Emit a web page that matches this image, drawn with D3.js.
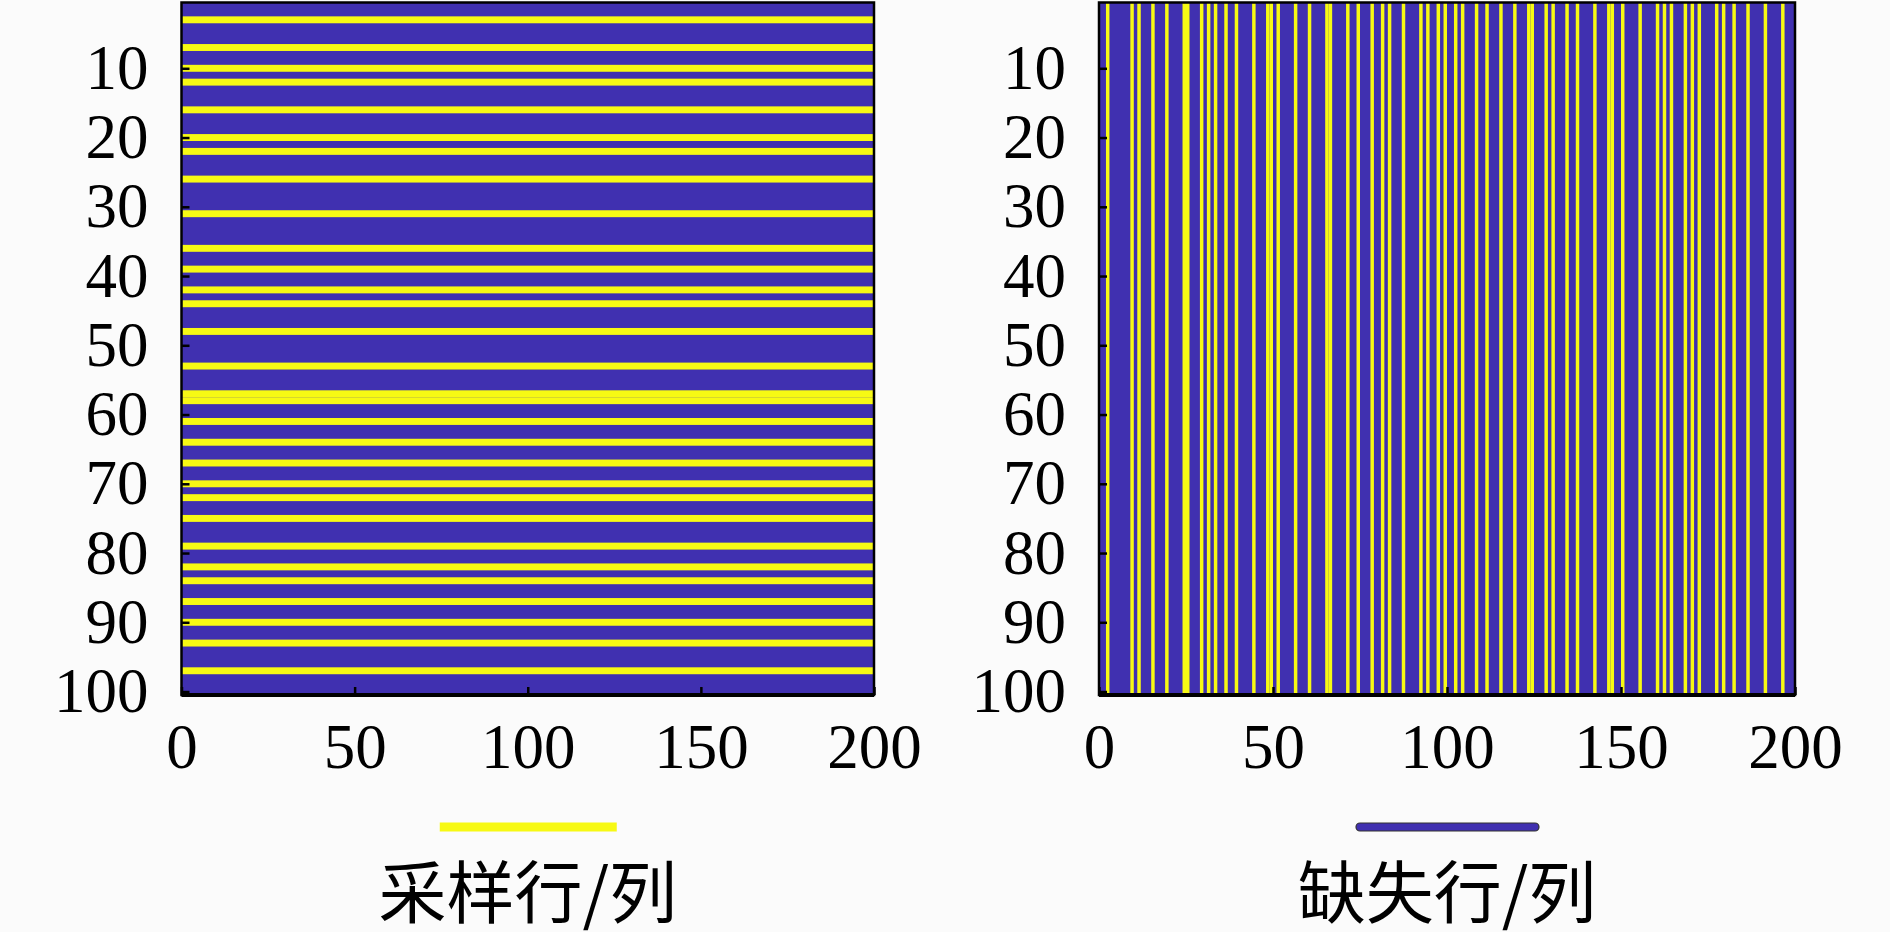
<!DOCTYPE html>
<html>
<head>
<meta charset="utf-8">
<script src="https://cdn.jsdelivr.net/npm/d3@7"></script>
<style>
  html, body { margin: 0; padding: 0; background: #fbfbfb; }
  svg { display: block; }
  .tick text { font-family: "Liberation Serif", "DejaVu Serif", serif; font-size: 63px; fill: #000; }
  .legend-label { font-family: "Noto Sans CJK SC", sans-serif; font-size: 68px; fill: #000; }
</style>
</head>
<body>
<script>
// matrix size
var ROW_COUNT = 100;
var COL_COUNT = 200;

// rows kept by row sampling (left panel)
var sampledRows = [3, 7, 10, 12, 16, 20, 22, 26, 31, 36, 39, 42, 44, 48, 53, 57, 58,
  61, 64, 67, 70, 72, 75, 79, 82, 84, 87, 90, 93, 97];

// columns kept by column sampling (right panel)
var sampledCols = [3, 10, 12, 16, 20, 25, 26, 30, 32, 34, 37, 40, 45, 49, 50, 52, 57,
  61, 66, 67, 72, 75, 79, 82, 84, 88, 93, 95, 98, 100, 103, 105, 109, 112, 116, 120,
  124, 125, 129, 131, 135, 138, 143, 147, 148, 151, 156, 161, 163, 165, 169, 171, 173,
  178, 180, 183, 187, 192, 197];

var xTicks = [0, 50, 100, 150, 200];
var yTicks = [10, 20, 30, 40, 50, 60, 70, 80, 90, 100];
var legendLabels = ["采样行/列", "缺失行/列"];

var BLUE = "#4030b0";
var YELLOW = "#f7f914";

var W = 1890, H = 932;
var PANELS = [
  {x0: 181.5, x1: 874, kind: "rows", legendColor: YELLOW, label: legendLabels[0]},
  {x0: 1099, x1: 1795, kind: "cols", legendColor: BLUE, label: legendLabels[1]}
];
var TOP = 2.5, BOTTOM = 695;

var svg = d3.select("body").append("svg")
  .attr("width", W)
  .attr("height", H);

PANELS.forEach(function(p) {
  var x = d3.scaleLinear().domain([0, COL_COUNT]).range([p.x0, p.x1]);
  var y = d3.scaleLinear().domain([0.5, ROW_COUNT + 0.5]).range([TOP, BOTTOM]);

  var g = svg.append("g");

  // missing part = background of the mask
  g.append("rect")
    .attr("x", x(0)).attr("y", y(0.5))
    .attr("width", x(COL_COUNT) - x(0))
    .attr("height", y(ROW_COUNT + 0.5) - y(0.5))
    .attr("fill", BLUE);

  if (p.kind === "rows") {
    g.selectAll("rect.cell").data(sampledRows).enter().append("rect")
      .attr("class", "cell")
      .attr("x", x(0))
      .attr("width", x(COL_COUNT) - x(0))
      .attr("y", function(d) { return y(d - 0.5); })
      .attr("height", function(d) { return y(d + 0.5) - y(d - 0.5); })
      .attr("fill", YELLOW);
  } else {
    g.selectAll("rect.cell").data(sampledCols).enter().append("rect")
      .attr("class", "cell")
      .attr("y", y(0.5))
      .attr("height", y(ROW_COUNT + 0.5) - y(0.5))
      .attr("x", function(d) { return x(d - 1); })
      .attr("width", function(d) { return x(d) - x(d - 1); })
      .attr("fill", YELLOW);
  }

  // axes box
  g.append("rect")
    .attr("x", x(0)).attr("y", y(0.5))
    .attr("width", x(COL_COUNT) - x(0))
    .attr("height", y(ROW_COUNT + 0.5) - y(0.5))
    .attr("fill", "none")
    .attr("stroke", "#000")
    .attr("stroke-width", 2.5);
  g.append("line")
    .attr("x1", x(0)).attr("x2", x(COL_COUNT))
    .attr("y1", BOTTOM).attr("y2", BOTTOM)
    .attr("stroke", "#000").attr("stroke-width", 4);

  var yAxis = d3.axisLeft(y).tickValues(yTicks).tickSizeInner(-8).tickSizeOuter(0).tickPadding(33);
  var xAxis = d3.axisBottom(x).tickValues(xTicks).tickSizeInner(-8).tickSizeOuter(0).tickPadding(28);

  var ga = g.append("g").attr("transform", "translate(" + x(0) + ",0)").call(yAxis);
  var gb = g.append("g").attr("transform", "translate(0," + BOTTOM + ")").call(xAxis);
  [ga, gb].forEach(function(a) {
    a.select(".domain").remove();
    a.selectAll(".tick line").attr("stroke", "#000").attr("stroke-width", 2.5);
    a.selectAll(".tick text").attr("font-family", null).attr("font-size", null);
  });

  // legend
  var cx = (p.x0 + p.x1) / 2;
  if (p.kind === "rows") {
    g.append("line")
      .attr("x1", cx - 88).attr("x2", cx + 89)
      .attr("y1", 827).attr("y2", 827)
      .attr("stroke", p.legendColor).attr("stroke-width", 9);
  } else {
    g.append("rect")
      .attr("x", cx - 91).attr("y", 823)
      .attr("width", 183).attr("height", 8)
      .attr("rx", 4)
      .attr("fill", p.legendColor)
      .attr("stroke", "#333").attr("stroke-width", 1.2);
  }
  g.append("text")
    .attr("class", "legend-label")
    .attr("x", cx).attr("y", 918)
    .attr("text-anchor", "middle")
    .text(p.label);
});
</script>
</body>
</html>
